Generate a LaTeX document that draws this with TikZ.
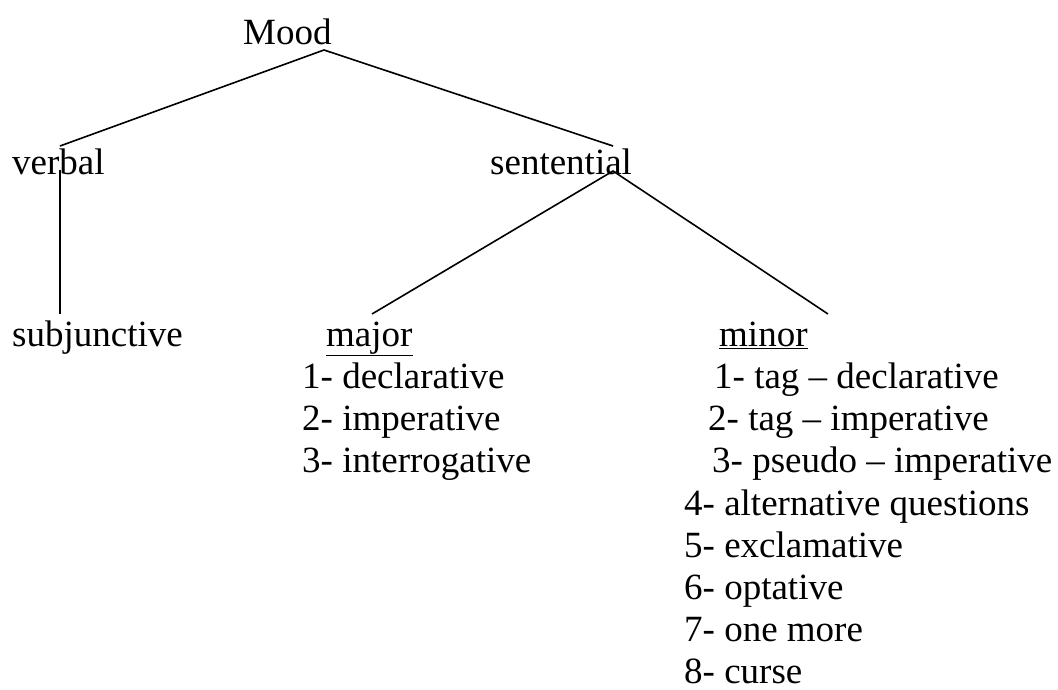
\documentclass[tikz,border=0pt]{standalone}
\usepackage{fontspec}
\setmainfont{Liberation Serif}
\usetikzlibrary{positioning}

\begin{document}
\begin{tikzpicture}[x=1pt, y=-1pt,
    word/.style={anchor=base west, inner sep=0pt, font=\fontsize{37}{42}\selectfont},
    branch/.style={line width=1.6pt}]
  \useasboundingbox (0, 0) rectangle (1058, 690);
  %  \draw[help lines, step=50] (0, 0) grid (1058, 690);

  \node [word] (mood)        at (243, 45)  {Mood};
  \node [word] (verbal)      at (12, 175)  {verbal};
  \node [word] (sentential)  at (490, 175) {sentential};
  \node [word] (subjunctive) at (12, 346)  {subjunctive};
  \node [word] (major)       at (326, 346) {\underline{major}};
  \node [word] (minor)       at (719, 346) {\underline{minor}};

  \node [word] (maj1) at (302, 388) {1- declarative};
  \node [word] (maj2) at (302, 430) {2- imperative};
  \node [word] (maj3) at (302, 472) {3- interrogative};

  \node [word] (min1) at (714, 388) {1- tag -- declarative};
  \node [word] (min2) at (708, 430) {2- tag -- imperative};
  \node [word] (min3) at (712, 472) {3- pseudo -- imperative};
  \node [word] (min4) at (684, 515) {4- alternative questions};
  \node [word] (min5) at (684, 557) {5- exclamative};
  \node [word] (min6) at (684, 599) {6- optative};
  \node [word] (min7) at (684, 641) {7- one more};
  \node [word] (min8) at (684, 683) {8- curse};

  % end points of the branches
  \coordinate (moodtip)   at (324, 50);
  \coordinate (verbaltip) at (60, 146);
  \coordinate (senttop)   at (613, 146);
  \coordinate (verbalbot) at (60, 170);
  \coordinate (subjtip)   at (60, 314);
  \coordinate (sentbot)   at (613, 171);
  \coordinate (majortip)  at (372, 314);
  \coordinate (minortip)  at (828, 314);

  \draw[branch] (verbaltip) -- (moodtip) -- (senttop);
  \draw[branch] (verbalbot) -- (subjtip);
  \draw[branch] (majortip) -- (sentbot) -- (minortip);
\end{tikzpicture}
\end{document}
